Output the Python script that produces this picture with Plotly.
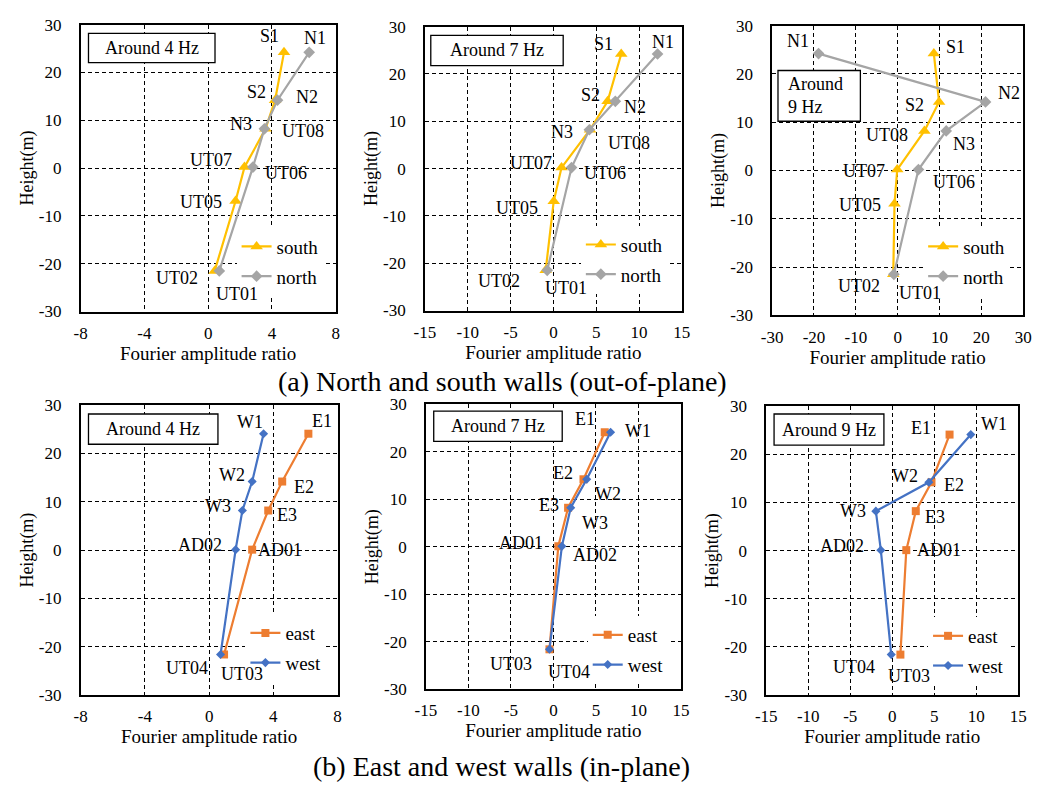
import plotly.graph_objects as go

W, H = 1042, 788
FONT = "Liberation Serif, Times New Roman, serif"

# ---------------- data ----------------
heights_ns_south = [24.2, 14.2, 8.2, 0.2, -6.9, -21.5]
heights_ns_north = [24.2, 14.2, 8.2, 0.2, -21.5]
heights_ew = [24.1, 14.2, 8.2, 0.1, -21.6]

labels_south = ["S1", "S2", "UT08", "UT07", "UT05", "UT02"]
labels_north = ["N1", "N2", "N3", "UT06", "UT01"]
labels_east = ["E1", "E2", "E3", "AD01", "UT03"]
labels_west = ["W1", "W2", "W3", "AD02", "UT04"]

south_4hz = [4.76, 4.20, 3.60, 2.28, 1.72, 0.41]
south_7hz = [7.92, 6.33, 4.28, 0.95, 0.04, -0.90]
south_9hz = [8.65, 9.90, 6.40, -0.10, -0.75, -1.05]
north_4hz = [6.34, 4.35, 3.53, 2.81, 0.70]
north_7hz = [12.16, 7.23, 4.20, 2.12, -0.72]
north_9hz = [-18.9, 21.0, 11.6, 4.97, -0.90]

east_4hz = [6.18, 4.55, 3.68, 2.68, 0.93]
east_7hz = [6.04, 3.54, 1.73, 0.58, -0.46]
east_9hz = [6.82, 4.67, 2.80, 1.67, 0.97]
west_4hz = [3.39, 2.68, 2.07, 1.65, 0.71]
west_7hz = [6.73, 3.92, 2.04, 1.00, -0.46]
west_9hz = [9.35, 4.36, -1.95, -1.36, -0.12]

freq_labels_top = ["Around 4 Hz", "Around 7 Hz", "Around<br>9 Hz"]
freq_labels_bottom = ["Around 4 Hz", "Around 7 Hz", "Around 9 Hz"]

y_ticks = [-30, -20, -10, 0, 10, 20, 30]
x_ticks_4 = [-8, -4, 0, 4, 8]
x_ticks_15 = [-15, -10, -5, 0, 5, 10, 15]
x_ticks_30 = [-30, -20, -10, 0, 10, 20, 30]

caption_a = "(a) North and south walls (out-of-plane)"
caption_b = "(b) East and west walls (in-plane)"
x_title = "Fourier amplitude ratio"
y_title = "Height(m)"

# ---------------- styles ----------------
STY = {
    "south": dict(color="#FFC000", symbol="triangle-up", size=11),
    "north": dict(color="#A5A5A5", symbol="diamond", size=9),
    "east": dict(color="#ED7D31", symbol="square", size=8),
    "west": dict(color="#4472C4", symbol="diamond", size=7),
}

# label pixel offsets (xshift, yshift) per panel / series
OFF = {
    (0, "south"): [(-15, 16), (-19, 8), (37, -2), (-33, 7), (-35, -1), (-38, -7)],
    (0, "north"): [(6, 14), (30, 3), (-23, 5), (33, -6), (18, -23)],
    (1, "south"): [(-18, 10), (-17, 6), (39, -13), (-31, 5), (-37, -7), (-47, -11)],
    (1, "north"): [(5, 12), (20, -6), (-27, -2), (33, -5), (19, -18)],
    (2, "south"): [(22, 7), (-25, -3), (-37, -4), (-33, -1), (-35, -1), (-34, -12)],
    (2, "north"): [(-21, 13), (23, 9), (18, -13), (36, -12), (26, -19)],
    (3, "east"): [(14, 13), (22, -5), (19, -4), (28, 0), (18, -20)],
    (3, "west"): [(-14, 12), (-20, 7), (-24, 5), (-36, 5), (-34, -14)],
    (4, "east"): [(-20, 13), (-20, 6), (-19, 3), (-37, 3), (-38, -15)],
    (4, "west"): [(27, 1), (21, -15), (24, -15), (33, -9), (20, -23)],
    (5, "east"): [(-29, 7), (23, -3), (19, -6), (33, 0), (9, -21)],
    (5, "west"): [(23, 11), (-24, 6), (-23, 0), (-39, 4), (-37, -12)],
}

# plot-area pixel boxes (x0, x1, y0, y1) from top
BOX = [
    (71, 331, 16, 310), (422, 684, 18, 309), (776, 1032, 17, 314),
    (71, 333, 406, 703), (423, 683, 405, 697), (770, 1027, 407, 703),
]
# frequency label boxes (x0, x1, y0, y1)
FBOX = [
    (79, 208, 25, 55), (428, 563, 27, 58), (782, 866, 63, 115),
    (79, 211, 415, 446), (431, 562, 412, 443), (778, 890, 415, 447),
]
# legend position (left px, top px)
LEG = [(230, 224), (581, 222), (930, 224), (239, 620), (588, 622), (935, 623)]

def px(x):
    return x / W

def py(y):
    return 1 - y / H

panels = [
    dict(xr=[-8, 8], xt=x_ticks_4, series=[("south", south_4hz, heights_ns_south, labels_south),
                                           ("north", north_4hz, heights_ns_north, labels_north)]),
    dict(xr=[-15, 15], xt=x_ticks_15, series=[("south", south_7hz, heights_ns_south, labels_south),
                                              ("north", north_7hz, heights_ns_north, labels_north)]),
    dict(xr=[-30, 30], xt=x_ticks_30, series=[("south", south_9hz, heights_ns_south, labels_south),
                                              ("north", north_9hz, heights_ns_north, labels_north)]),
    dict(xr=[-8, 8], xt=x_ticks_4, series=[("east", east_4hz, heights_ew, labels_east),
                                           ("west", west_4hz, heights_ew, labels_west)]),
    dict(xr=[-15, 15], xt=x_ticks_15, series=[("east", east_7hz, heights_ew, labels_east),
                                              ("west", west_7hz, heights_ew, labels_west)]),
    dict(xr=[-15, 15], xt=x_ticks_15, series=[("east", east_9hz, heights_ew, labels_east),
                                              ("west", west_9hz, heights_ew, labels_west)]),
]
freq_labels = freq_labels_top + freq_labels_bottom

fig = go.Figure()
annotations = []
shapes = []
layout = dict(
    width=W, height=H, margin=dict(l=0, r=0, t=0, b=0),
    paper_bgcolor="white", plot_bgcolor="white",
    font=dict(family=FONT, color="black", size=16),
    showlegend=True,
)

for i, p in enumerate(panels):
    n = "" if i == 0 else str(i + 1)
    xa, ya = "x" + n, "y" + n
    leg = "legend" + n
    x0, x1, y0, y1 = BOX[i]
    for name, xs, ys, labs in p["series"]:
        s = STY[name]
        fig.add_trace(go.Scatter(
            x=xs, y=ys, mode="lines+markers", name=name,
            line=dict(color=s["color"], width=2.2),
            marker=dict(color=s["color"], symbol=s["symbol"], size=s["size"]),
            xaxis=xa, yaxis=ya, legend=leg, legendgroup=name + n,
            cliponaxis=False,
        ))
        for (xv, yv, lab, (dx, dy)) in zip(xs, ys, labs, OFF[(i, name)]):
            annotations.append(dict(
                x=xv, y=yv, xref=xa, yref=ya, text=lab, showarrow=False,
                xanchor="center", yanchor="middle",
                xshift=dx, yshift=dy, font=dict(family=FONT, size=18, color="black"),
            ))
    grid = dict(showgrid=True, gridcolor="black", gridwidth=1, griddash="4px,3px",
                zeroline=False, showline=True, mirror=True, linecolor="black",
                linewidth=1.5, ticks="", tickfont=dict(family=FONT, size=17, color="black"))
    layout["xaxis" + n] = dict(
        domain=[px(x0), px(x1)], range=p["xr"], anchor=ya,
        tickvals=p["xt"], ticktext=[str(v) for v in p["xt"]],
        ticklabelstandoff=5,
        title=dict(text=x_title, font=dict(family=FONT, size=19, color="black"), standoff=2),
        **grid)
    layout["yaxis" + n] = dict(
        domain=[py(y1), py(y0)], range=[-30, 30], anchor=xa,
        tickvals=y_ticks, ticktext=[str(v) for v in y_ticks],
        ticklabelstandoff=14,
        title=dict(text=y_title, font=dict(family=FONT, size=18, color="black"), standoff=1),
        **grid)
    lx, ly = LEG[i]
    layout[leg] = dict(
        x=px(lx), y=py(ly), xanchor="left", yanchor="top",
        bgcolor="white", borderwidth=0, tracegroupgap=2,
        font=dict(family=FONT, size=19, color="black"), traceorder="grouped",
        itemwidth=30,
    )
    fx0, fx1, fy0, fy1 = FBOX[i]
    shapes.append(dict(type="rect", xref="paper", yref="paper",
                       x0=px(fx0), x1=px(fx1), y0=py(fy1), y1=py(fy0),
                       line=dict(color="black", width=1.3), fillcolor="white", layer="above"))
    multi = "<br>" in freq_labels[i]
    annotations.append(dict(
        x=px(fx0 + 8) if multi else px((fx0 + fx1) / 2), y=py((fy0 + fy1) / 2),
        xref="paper", yref="paper", text=freq_labels[i], showarrow=False,
        xanchor="left" if multi else "center", yanchor="middle", align="left",
        font=dict(family=FONT, size=18, color="black"),
    ))

annotations.append(dict(x=px(501), y=py(382), xref="paper", yref="paper", text=caption_a,
                        xanchor="center", yanchor="middle",
                        showarrow=False, font=dict(family=FONT, size=28, color="black")))
annotations.append(dict(x=px(500), y=py(776), xref="paper", yref="paper", text=caption_b,
                        xanchor="center", yanchor="middle",
                        showarrow=False, font=dict(family=FONT, size=28, color="black")))

layout["annotations"] = annotations
layout["shapes"] = shapes
fig.update_layout(**layout)
fig.write_html("out.html")
